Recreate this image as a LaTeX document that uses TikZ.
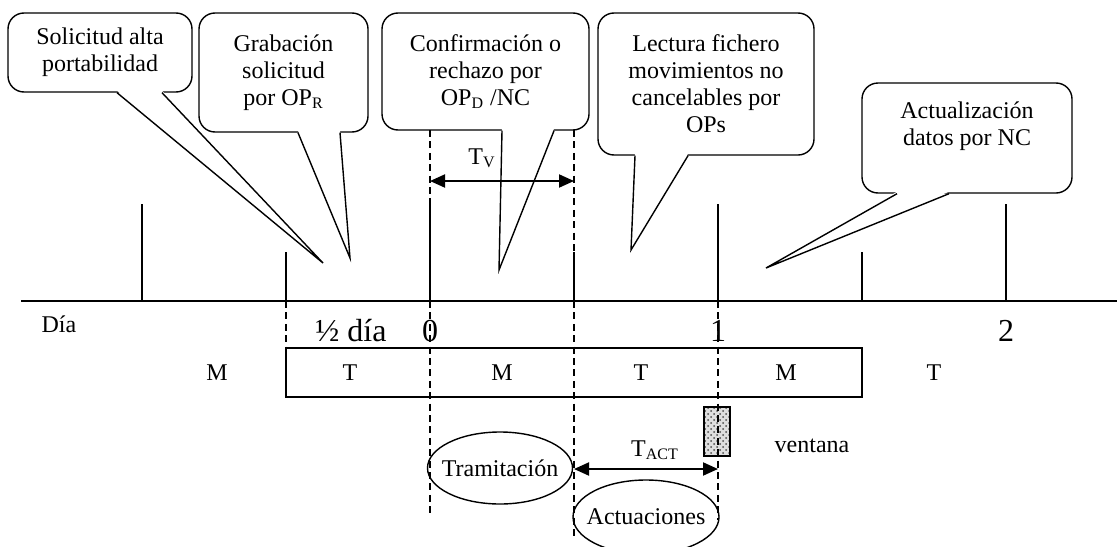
\documentclass[tikz,border=0pt]{standalone}
\usepackage{fontspec}
\setmainfont{Liberation Serif}
\usetikzlibrary{arrows.meta}
\usetikzlibrary{patterns}

\tikzset{
  globo/.style={draw, line width=0.7pt, rounded corners=8pt, align=center,
    inner sep=2pt, font=\fontsize{12}{13.5}\selectfont},
  texto/.style={font=\fontsize{12}{13.5}\selectfont, inner sep=0pt},
  cifra/.style={font=\fontsize{16}{19}\selectfont, inner sep=0pt, anchor=base},
  discont/.style={dash pattern=on 3.5pt off 2.2pt, line width=0.6pt},
  flecha/.style={{Triangle[length=7.5pt,width=6.5pt]}-{Triangle[length=7.5pt,width=6.5pt]},
    line width=1pt},
  ovalo/.style={line width=0.7pt}
}

\begin{document}
\begin{tikzpicture}[x=0.5pt, y=-0.5pt, line width=0.6pt]
    \useasboundingbox (0,0) rectangle (1117,546);
    \clip (0,0) rectangle (1117,546);

    % bocadillos
    \node[globo, minimum width=92pt, minimum height=39.5pt] (sol) at (100,52.5)
      {Solicitud alta\\portabilidad};
    \node[globo, minimum width=84.5pt, minimum height=59.5pt] (grab) at (283.5,72.5)
      {Grabación\\solicitud\\por OP\textsubscript{R}};
    \node[globo, minimum width=103.5pt, minimum height=58.5pt] (conf) at (485.5,71.5)
      {Confirmación o\\rechazo por\\OP\textsubscript{D} /NC};
    \node[globo, minimum width=108pt, minimum height=71pt] (lect) at (706,84)
      {Lectura fichero\\movimientos no\\cancelables por\\OPs};
    \node[globo, minimum width=105pt, minimum height=55pt] (act) at (967,138) {};
    \node[texto, align=center] (actT) at (967,126) {Actualización\\datos por NC};

    % puntas de los bocadillos
    \coordinate (psol) at (323,263);
    \coordinate (pgrab) at (350,258);
    \coordinate (pconf) at (499,270);
    \coordinate (plect) at (631,250);
    \coordinate (pact) at (766,268);
    \foreach \n/\a/\b in {sol/8.5/31, grab/7.25/28.25, conf/8.25/34.25,
                          lect/-35.5/-9, act/-35/-9}
    {
      \fill[white] ([xshift=\a pt,yshift=1pt]\n.south) -- (p\n)
        -- ([xshift=\b pt,yshift=1pt]\n.south) -- cycle;
      \draw[line width=0.7pt] ([xshift=\a pt]\n.south) -- (p\n) -- ([xshift=\b pt]\n.south);
    }

    % eje de tiempo
    \draw (21,301) -- (1117,301);
    \foreach \x/\y in {142/204, 286/252, 430/202, 574/252, 718/204, 862/252, 1006/204}
      \draw (\x,\y) -- (\x,301);
    \draw[line width=0.7pt] (286,348) rectangle (862,397);

    % lineas discontinuas
    \draw[discont] (430,130) -- (430,517);
    \draw[discont] (574,130) -- (574,540);
    \draw[discont] (286,301) -- (286,348);

    % ventana
    \node[draw, line width=0.8pt, minimum width=13pt, minimum height=24.5pt, inner sep=0pt,
      preaction={fill=gray!25}, pattern=crosshatch dots, pattern color=black!70]
      (vent) at (717,431.5) {};
    \draw[discont] (718,301) -- (718,520);
    \node[texto, anchor=base] (ventT) at (812,452) {ventana};

    % textos del eje
    \node[texto, anchor=base west] (dia) at (41,332) {Día};
    \node[cifra] (medio) at (351,341) {½ día};
    \node[cifra] (d0) at (430,341) {0};
    \node[cifra] (d1) at (718,341) {1};
    \node[cifra] (d2) at (1006,341) {2};
    \foreach \x/\t [count=\i] in {217/M, 350/T, 502/M, 641/T, 786/M, 934/T}
      \node[texto, anchor=base] (turno\i) at (\x,380) {\t};

    % tiempos
    \coordinate (tv1) at (430,181);
    \coordinate (tv2) at (574,181);
    \draw[flecha] (tv1) -- (tv2);
    \node[texto, anchor=base] (tv) at (482,164) {T\textsubscript{V}};
    \coordinate (ta1) at (574,469);
    \coordinate (ta2) at (718,469);
    \draw[flecha] (ta1) -- (ta2);
    \node[texto, anchor=base] (tact) at (655,456) {T\textsubscript{ACT}};

    % elipses
    \node[texto] (tram) at (500,468) {Tramitación};
    \draw[ovalo] (tram.center) ellipse [x radius=36.25pt, y radius=18pt];
    \node[texto] (actu) at (646,517) {Actuaciones};
    \draw[ovalo] (actu.center) ellipse [x radius=36.5pt, y radius=18.5pt];
\end{tikzpicture}
\end{document}
